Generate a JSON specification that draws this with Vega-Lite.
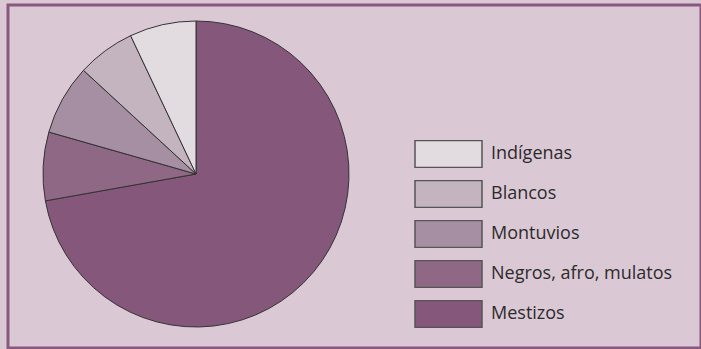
{
  "$schema": "https://vega.github.io/schema/vega-lite/v6.json",
  "width": 693,
  "height": 343,
  "autosize": {"type": "none"},
  "padding": {"left": 8, "top": 5, "right": 0, "bottom": 1},
  "background": "#dbc8d5",
  "view": {"stroke": "#89587f", "strokeWidth": 3, "fill": null},
  "config": {
    "font": "Open Sans"
  },
  "data": {
    "values": [
      {"grupo": "Mestizos", "porcentaje": 71.9, "orden": 1},
      {"grupo": "Negros, afro, mulatos", "porcentaje": 7.2, "orden": 2},
      {"grupo": "Montuvios", "porcentaje": 7.4, "orden": 3},
      {"grupo": "Blancos", "porcentaje": 6.1, "orden": 4},
      {"grupo": "Indígenas", "porcentaje": 7.0, "orden": 5}
    ]
  },
  "mark": {"type": "arc", "x": 188, "y": 169, "radius": 153, "stroke": "#333333", "strokeWidth": 1},
  "encoding": {
    "theta": {"field": "porcentaje", "type": "quantitative", "stack": true},
    "order": {"field": "orden", "type": "quantitative"},
    "color": {
      "field": "grupo",
      "type": "nominal",
      "scale": {
        "domain": ["Indígenas", "Blancos", "Montuvios", "Negros, afro, mulatos", "Mestizos"],
        "range": ["#e2dbe0", "#c3b4c0", "#a68fa2", "#8e6884", "#84577b"]
      },
      "legend": {
        "title": null,
        "orient": "none",
        "legendX": 406,
        "legendY": 135,
        "padding": 0,
        "symbolType": "M-1,-0.4H1V0.4H-1Z",
        "symbolSize": 4489,
        "symbolStrokeColor": "#555555",
        "symbolStrokeWidth": 1.5,
        "clipHeight": 28,
        "rowPadding": 12,
        "labelOffset": 8,
        "labelFontSize": 18,
        "labelLimit": 300,
        "labelColor": "#2b2b2b",
        "labelFont": "Open Sans"
      }
    }
  }
}
